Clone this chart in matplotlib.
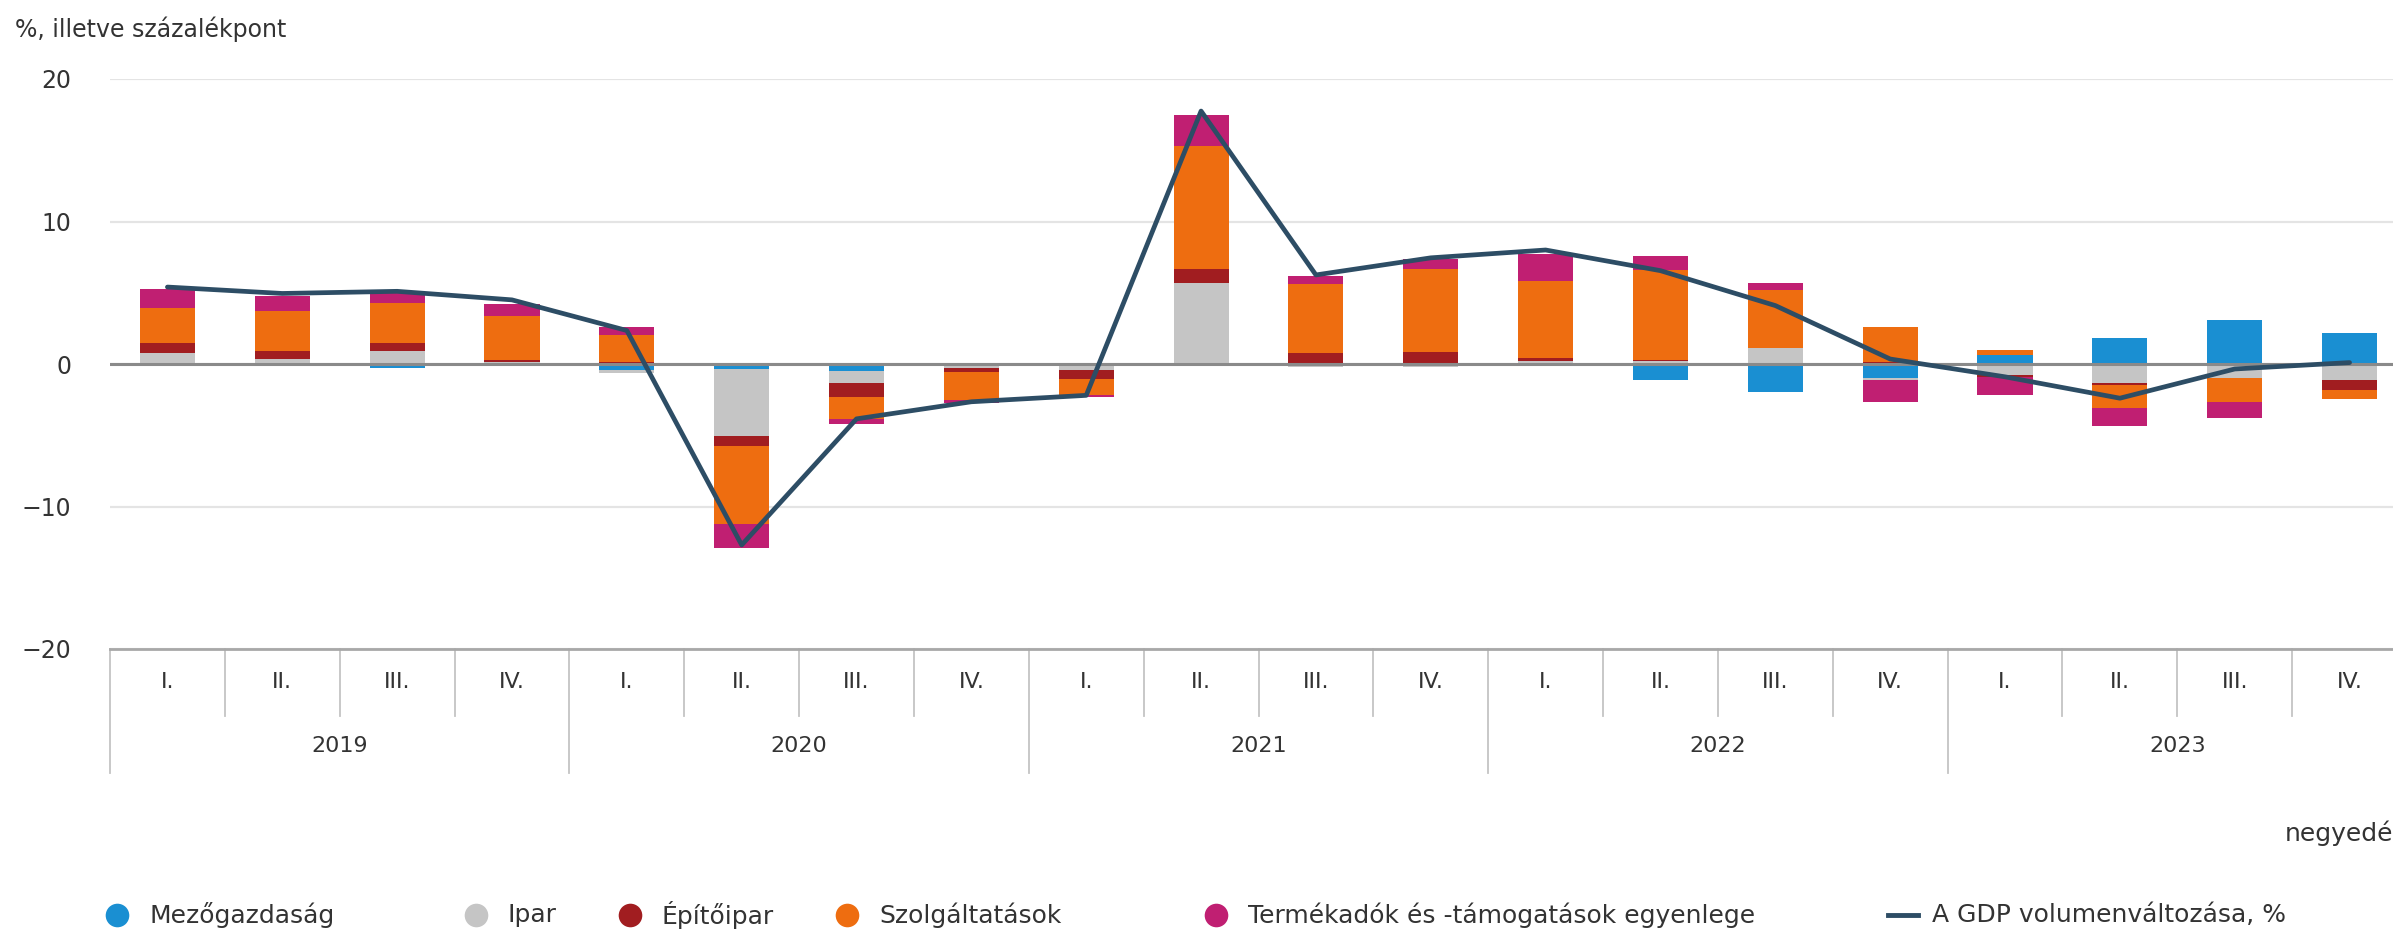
import numpy as np
import matplotlib
matplotlib.use('Agg')
import matplotlib.pyplot as plt
import matplotlib.transforms as mtransforms
from matplotlib.lines import Line2D

plt.rcParams['font.family'] = ['DejaVu Sans']

# adatok (negyedéves hozzájárulás a GDP változásához, százalékpont)
years = ['2019', '2020', '2021', '2022', '2023']
quarters = ['I.', 'II.', 'III.', 'IV.']

mezogazdasag = [0.0, 0.0, -0.3, 0.0, -0.4, -0.35, -0.5, -0.1, -0.15, -0.15,
                -0.1, -0.1, 0.0, -1.15, -1.95, -1.0, 0.6, 1.8, 3.1, 2.2]
ipar = [0.75, 0.35, 0.9, 0.15, -0.2, -4.7, -0.8, -0.15, -0.3, 5.7,
        -0.1, -0.1, 0.2, 0.2, 1.1, -0.15, -0.8, -1.35, -1.0, -1.15]
epitoipar = [0.7, 0.55, 0.55, 0.15, 0.15, -0.7, -1.05, -0.3, -0.6, 0.95,
             0.75, 0.85, 0.2, 0.1, 0.0, 0.15, -0.1, -0.15, 0.0, -0.7]
szolgaltatasok = [2.45, 2.85, 2.85, 3.05, 1.9, -5.45, -1.5, -2.0, -1.15, 8.65,
                  4.85, 5.85, 5.45, 6.3, 4.1, 2.45, 0.35, -1.6, -1.65, -0.6]
termekadok = [1.35, 1.0, 0.75, 0.85, 0.55, -1.7, -0.35, -0.2, -0.15, 2.2,
              0.55, 0.65, 1.9, 0.95, 0.5, -1.5, -1.3, -1.25, -1.15, 0.0]
gdp = [5.4, 4.95, 5.1, 4.5, 2.35, -12.7, -3.85, -2.65, -2.2, 17.75,
       6.25, 7.45, 8.0, 6.55, 4.1, 0.35, -0.9, -2.4, -0.35, 0.1]

series_names = ['Mezőgazdaság', 'Ipar', 'Építőipar', 'Szolgáltatások',
                'Termékadók és -támogatások egyenlege']
series_colors = ['#1a8fd2', '#c5c5c5', '#a11d20', '#ee6d10', '#c01f72']
line_name = 'A GDP volumenváltozása, %'
line_color = '#2d4d65'

W, H = 2393, 939
fig = plt.figure(figsize=(W / 100, H / 100), dpi=100)
fig.patch.set_facecolor('white')
ax = fig.add_axes([110 / W, 1 - 649 / H, (2407 - 110) / W, (649 - 79) / H])

x = np.arange(len(gdp))
pos_bottom = np.zeros(len(x))
neg_bottom = np.zeros(len(x))
for vals, name, col in zip([mezogazdasag, ipar, epitoipar, szolgaltatasok, termekadok],
                           series_names, series_colors):
    v = np.array(vals)
    bottom = np.where(v >= 0, pos_bottom, neg_bottom)
    ax.bar(x, v, width=0.48, bottom=bottom, color=col, linewidth=0, zorder=2)
    pos_bottom += np.where(v > 0, v, 0)
    neg_bottom += np.where(v < 0, v, 0)

ax.axhline(0, color='#8a8a8a', lw=2.2, zorder=3)
ax.axhline(-20, color='#a8a8a8', lw=2.0, zorder=3, clip_on=False)

ax.plot(x, gdp, color=line_color, lw=3.4, zorder=4, solid_joinstyle='round',
        solid_capstyle='round')

ax.set_xlim(-0.5, 19.5)
ax.set_ylim(-20, 20)
ax.set_yticks([-20, -10, 0, 10, 20])
ax.yaxis.grid(True, color='#e4e4e4', lw=1.6)
ax.set_axisbelow(True)
ax.tick_params(axis='y', length=0, pad=28, labelsize=17, labelcolor='#333333')
ax.set_xticks([])
for s in ax.spines.values():
    s.set_visible(False)

# kategória tengely: negyedévek és évek
trans = mtransforms.blended_transform_factory(ax.transData, ax.transAxes)
for b in range(len(x) + 1):
    yend = -0.218 if b % 4 == 0 else -0.118
    ax.plot([b - 0.5, b - 0.5], [0, yend], transform=trans, clip_on=False,
            color='#c4c4c4', lw=1.3, zorder=1)
for i in x:
    ax.text(i, -0.058, quarters[i % 4], transform=trans, ha='center', va='center',
            fontsize=16, color='#333333')
for k, yr in enumerate(years):
    ax.text(4 * k + 1.5, -0.170, yr, transform=trans, ha='center', va='center',
            fontsize=16, color='#333333')

fig.text(15 / W, 1 - 29 / H, '%, illetve százalékpont', ha='left', va='center',
         fontsize=17, color='#333333')
fig.text(2285 / W, 1 - 833 / H, 'negyedév', ha='left', va='center',
         fontsize=18, color='#333333')

# jelmagyarázat
ly = 1 - 915 / H
marker_x = [117, 476, 630, 847, 1216]
for mx, name, col in zip(marker_x, series_names, series_colors):
    fig.add_artist(Line2D([mx / W], [ly], marker='o', markersize=17, color=col,
                          markeredgewidth=0, transform=fig.transFigure))
    fig.text((mx + 32) / W, ly, name, ha='left', va='center', fontsize=18, color='#333333')
fig.add_artist(Line2D([1888 / W, 1918 / W], [ly, ly], color=line_color, lw=3.5,
                      transform=fig.transFigure))
fig.text(1932 / W, ly, line_name, ha='left', va='center', fontsize=18, color='#333333')

fig.savefig('out.png', dpi=100)
